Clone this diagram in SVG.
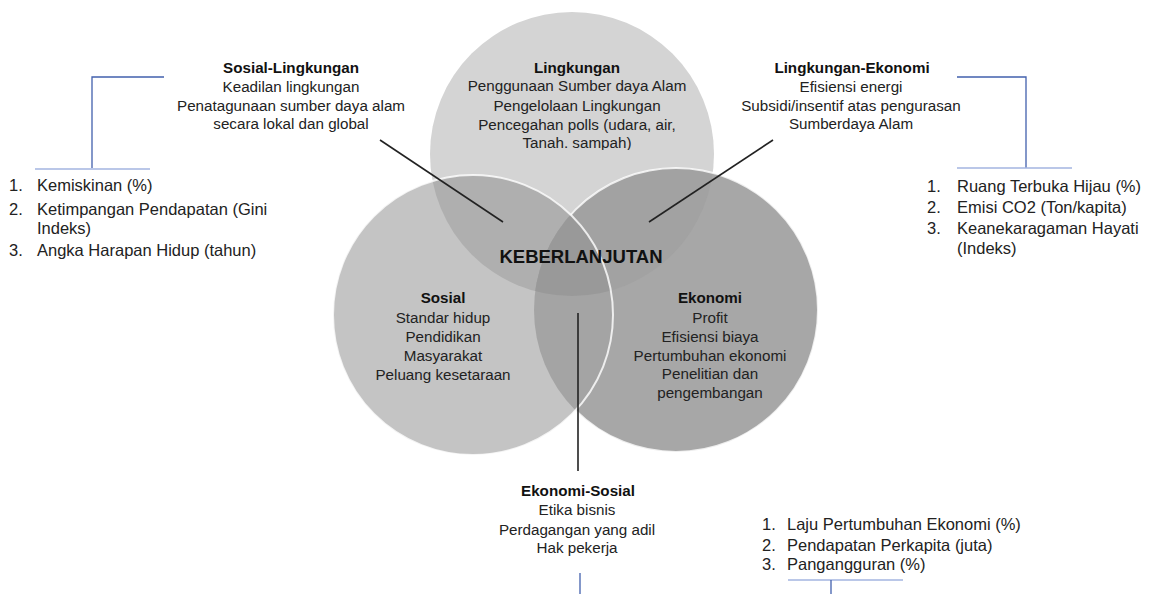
<svg xmlns="http://www.w3.org/2000/svg" width="1151" height="594" viewBox="0 0 1151 594">
<style>
text{font-family:"Liberation Sans",Arial,Helvetica,sans-serif;fill:#222}
.v{font-size:15.2px;text-anchor:middle}
.b{font-weight:bold;fill:#111}
.k{font-size:18.5px;font-weight:bold;text-anchor:middle;fill:#111}
.l{font-size:16.5px}
.blk{stroke:#222;stroke-width:1.6;fill:none}
.bl{stroke:#4260ad;stroke-width:1.3;fill:none}
.bll{stroke:#a3b5e0;stroke-width:1.3;fill:none}
.ws{fill:none;stroke:#fff;stroke-width:2;stroke-opacity:0.8}
</style>
<defs>
<clipPath id="cT"><circle cx="572" cy="154" r="142"/></clipPath>
<clipPath id="cL"><circle cx="473" cy="315" r="140"/></clipPath>
<clipPath id="cTxt"><rect x="420" y="0" width="320" height="150"/></clipPath>
<mask id="mNoL" maskUnits="userSpaceOnUse" x="0" y="0" width="1151" height="594">
<rect x="0" y="0" width="1151" height="594" fill="#fff"/>
<circle cx="473" cy="315" r="140" fill="#000"/>
</mask>
</defs>
<rect x="0" y="0" width="1151" height="594" fill="#fff"/>
<g id="venn">
<circle cx="572" cy="154" r="142" fill="#d4d4d4"/>
<circle cx="676" cy="310" r="142" fill="#a7a7a7"/>
<circle cx="473" cy="315" r="140" fill="#c4c4c4"/>
<circle cx="473" cy="315" r="140" fill="#afafaf" clip-path="url(#cT)"/>
<circle cx="676" cy="310" r="142" fill="#a2a2a2" clip-path="url(#cT)"/>
<circle cx="676" cy="310" r="142" fill="#a4a4a4" clip-path="url(#cL)"/>
<g clip-path="url(#cT)"><circle cx="676" cy="310" r="142" fill="#999" clip-path="url(#cL)"/></g>
<circle class="ws" cx="676" cy="310" r="142" mask="url(#mNoL)"/>
<circle class="ws" cx="473" cy="315" r="140"/>
</g>
<g id="connectors">
<line class="blk" x1="380" y1="140" x2="503" y2="222"/>
<line class="blk" x1="773" y1="140" x2="649" y2="222"/>
<line class="blk" x1="578" y1="313" x2="578" y2="471"/>
<polyline class="bl" points="164,77 92,77 92,168"/>
<line class="bll" x1="35" y1="169" x2="150" y2="169"/>
<polyline class="bl" points="957,77 1026,77 1026,168"/>
<line class="bll" x1="957" y1="168" x2="1072" y2="168"/>
<line class="bll" x1="788" y1="580" x2="903" y2="580"/>
<line class="bl" x1="831" y1="580" x2="831" y2="594"/>
<line class="bl" x1="580" y1="573" x2="580" y2="594"/>
</g>
<g id="lingkungan">
<g clip-path="url(#cTxt)">
<text class="v b" x="577" y="73">Lingkungan</text>
<text class="v" x="577" y="91">Penggunaan Sumber daya Alam</text>
<text class="v" x="577" y="111">Pengelolaan Lingkungan</text>
<text class="v" x="577" y="130">Pencegahan polls (udara, air,</text>
<text class="v" x="577" y="148">Tanah. sampah)</text>
</g>
</g>
<g id="sosial-lingkungan">
<text class="v b" x="291" y="73">Sosial-Lingkungan</text>
<text class="v" x="291" y="92">Keadilan lingkungan</text>
<text class="v" x="291" y="111">Penatagunaan sumber daya alam</text>
<text class="v" x="291" y="129">secara lokal dan global</text>
</g>
<g id="lingkungan-ekonomi">
<text class="v b" x="852" y="73">Lingkungan-Ekonomi</text>
<text class="v" x="851" y="92">Efisiensi energi</text>
<text class="v" x="851" y="111">Subsidi/insentif atas pengurasan</text>
<text class="v" x="851" y="129">Sumberdaya Alam</text>
</g>
<g id="keberlanjutan">
<text class="k" x="581" y="263">KEBERLANJUTAN</text>
</g>
<g id="sosial">
<text class="v b" x="443" y="303">Sosial</text>
<text class="v" x="443" y="323">Standar hidup</text>
<text class="v" x="443" y="342">Pendidikan</text>
<text class="v" x="443" y="361">Masyarakat</text>
<text class="v" x="443" y="380">Peluang kesetaraan</text>
</g>
<g id="ekonomi">
<text class="v b" x="710" y="303">Ekonomi</text>
<text class="v" x="710" y="323">Profit</text>
<text class="v" x="710" y="342">Efisiensi biaya</text>
<text class="v" x="710" y="361">Pertumbuhan ekonomi</text>
<text class="v" x="710" y="379">Penelitian dan</text>
<text class="v" x="710" y="398">pengembangan</text>
</g>
<g id="ekonomi-sosial">
<text class="v b" x="578" y="496">Ekonomi-Sosial</text>
<text class="v" x="577" y="515">Etika bisnis</text>
<text class="v" x="577" y="535">Perdagangan yang adil</text>
<text class="v" x="577" y="553">Hak pekerja</text>
</g>
<g id="list-sosial">
<text class="l" x="9" y="191">1.</text><text class="l" x="37" y="191">Kemiskinan (%)</text>
<text class="l" x="9" y="215">2.</text><text class="l" x="37" y="215">Ketimpangan Pendapatan (Gini</text>
<text class="l" x="37" y="234">Indeks)</text>
<text class="l" x="9" y="256">3.</text><text class="l" x="37" y="256">Angka Harapan Hidup (tahun)</text>
</g>
<g id="list-lingkungan">
<text class="l" x="927" y="192">1.</text><text class="l" x="957" y="192">Ruang Terbuka Hijau (%)</text>
<text class="l" x="927" y="213">2.</text><text class="l" x="957" y="213">Emisi CO2 (Ton/kapita)</text>
<text class="l" x="927" y="234">3.</text><text class="l" x="957" y="234">Keanekaragaman Hayati</text>
<text class="l" x="957" y="254">(Indeks)</text>
</g>
<g id="list-ekonomi">
<text class="l" x="762" y="530">1.</text><text class="l" x="787" y="530">Laju Pertumbuhan Ekonomi (%)</text>
<text class="l" x="762" y="551">2.</text><text class="l" x="787" y="551">Pendapatan Perkapita (juta)</text>
<text class="l" x="762" y="570">3.</text><text class="l" x="787" y="570">Pangangguran (%)</text>
</g>
</svg>
